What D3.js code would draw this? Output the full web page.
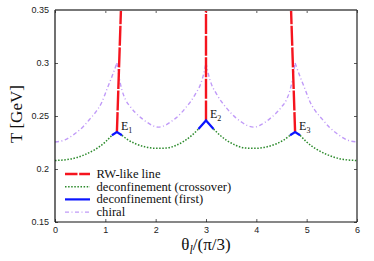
<!DOCTYPE html>
<html>
<head>
<meta charset="utf-8">
<script src="https://cdn.jsdelivr.net/npm/d3@7"></script>
<style>
  body { margin: 0; background: #fff; }
  svg { display: block; }
</style>
</head>
<body>
<svg id="chart" width="374" height="261"></svg>
<script>
// axis ticks
var xTicks = [0, 1, 2, 3, 4, 5, 6];
var yTicks = [0.15, 0.2, 0.25, 0.3, 0.35];

// end points E1, E2, E3
var endTheta = [1.23, 3.0, 4.77];
var endT = [0.2348, 0.2458, 0.2348];
var endNames = ['1', '2', '3'];

// RW-like lines (bottom -> top)
var rwTheta = [[1.23, 1.31], [3.0, 3.0], [4.77, 4.69]];
var rwT = [[0.2348, 0.35], [0.2458, 0.35], [0.2348, 0.35]];

// deconfinement first order arms
var firstTheta = [[1.13, 1.23, 1.33], [2.85, 3.0, 3.15], [4.67, 4.77, 4.87]];
var firstT = [[0.2318, 0.2348, 0.2318], [0.2377, 0.2458, 0.2377], [0.2318, 0.2348, 0.2318]];

// deconfinement crossover
var crossTheta = [
  [0, 0.3, 0.6, 0.8, 1.0, 1.13],
  [1.33, 1.45, 1.6, 1.8, 2.0, 2.2, 2.4, 2.58, 2.72, 2.85],
  [3.15, 3.28, 3.42, 3.6, 3.8, 4.0, 4.2, 4.4, 4.55, 4.67],
  [4.87, 5.0, 5.2, 5.4, 5.7, 6.0]
];
var crossT = [
  [0.208, 0.2093, 0.2137, 0.2185, 0.2255, 0.2318],
  [0.2318, 0.2275, 0.2238, 0.2208, 0.2195, 0.2197, 0.2222, 0.2268, 0.2318, 0.2377],
  [0.2377, 0.2318, 0.2268, 0.2222, 0.2197, 0.2195, 0.2208, 0.2238, 0.2275, 0.2318],
  [0.2318, 0.2255, 0.2185, 0.2137, 0.2093, 0.208]
];

// chiral
var chiralTheta = [
  [0, 0.2, 0.4, 0.55, 0.7, 0.83, 0.93, 1.03, 1.13, 1.23],
  [1.23, 1.28, 1.33, 1.4, 1.5, 1.6, 1.73, 1.83, 1.93, 2.05, 2.2, 2.3, 2.4, 2.5, 2.6, 2.7, 2.8, 2.9, 2.95, 3.0],
  [3.0, 3.05, 3.1, 3.2, 3.3, 3.4, 3.5, 3.6, 3.7, 3.8, 3.95, 4.07, 4.17, 4.27, 4.4, 4.5, 4.6, 4.67, 4.72, 4.77],
  [4.77, 4.87, 4.97, 5.07, 5.17, 5.3, 5.45, 5.6, 5.8, 6.0]
];
var chiralT = [
  [0.2255, 0.2275, 0.2335, 0.2395, 0.2475, 0.255, 0.263, 0.275, 0.287, 0.300],
  [0.300, 0.285, 0.2745, 0.2655, 0.2585, 0.253, 0.2475, 0.244, 0.2412, 0.2395, 0.2415, 0.2445, 0.248, 0.2525, 0.258, 0.264, 0.2715, 0.281, 0.289, 0.300],
  [0.300, 0.289, 0.281, 0.2715, 0.264, 0.258, 0.2525, 0.248, 0.2445, 0.2415, 0.2395, 0.2412, 0.244, 0.2475, 0.253, 0.2585, 0.2655, 0.2745, 0.285, 0.300],
  [0.300, 0.287, 0.275, 0.263, 0.255, 0.2475, 0.2395, 0.2335, 0.2275, 0.2255]
];

var legendNames = ['RW-like line', 'deconfinement (crossover)', 'deconfinement (first)', 'chiral'];

var
svg = d3.select('#chart'),
margin = {left: 55, right: 17, top: 10, bottom: 39},
width = 374 - margin.left - margin.right,
height = 261 - margin.top - margin.bottom;

var x = d3.scaleLinear().domain([0, 6]).range([0, width]);
var y = d3.scaleLinear().domain([0.15, 0.35]).range([height, 0]);

var g = svg.append('g').attr('transform', 'translate(' + margin.left + ',' + margin.top + ')');

svg.append('defs').append('clipPath').attr('id', 'clip')
  .append('rect').attr('width', width).attr('height', height);

var tickFont = '"Liberation Sans", Arial, sans-serif';
var serif = '"Liberation Serif", "Times New Roman", serif';

// axes with inner ticks
function styleAxis(sel) {
  sel.select('.domain').remove();
  sel.selectAll('.tick line').attr('stroke', '#333').attr('stroke-width', 0.8);
  sel.selectAll('.tick text').attr('font-family', tickFont).attr('font-size', 9).attr('fill', '#222');
}
g.append('g').attr('transform', 'translate(0,' + height + ')')
  .call(d3.axisBottom(x).tickValues(xTicks).tickSizeInner(-3).tickSizeOuter(0).tickPadding(5).tickFormat(d3.format('d')))
  .call(styleAxis);
g.append('g')
  .call(d3.axisTop(x).tickValues(xTicks).tickSizeInner(-3).tickSizeOuter(0).tickFormat(''))
  .call(styleAxis);
g.append('g')
  .call(d3.axisLeft(y).tickValues(yTicks).tickSizeInner(-3).tickSizeOuter(0).tickPadding(6).tickFormat(function (d) { return String(d); }))
  .call(styleAxis);
g.append('g').attr('transform', 'translate(' + width + ',0)')
  .call(d3.axisRight(y).tickValues(yTicks).tickSizeInner(-3).tickSizeOuter(0).tickFormat(''))
  .call(styleAxis);

function toPts(th, tt) {
  return th.map(function (d, i) { return [d, tt[i]]; });
}

var curve = d3.line().x(function (d) { return x(d[0]); }).y(function (d) { return y(d[1]); }).curve(d3.curveMonotoneX);
var straight = d3.line().x(function (d) { return x(d[0]); }).y(function (d) { return y(d[1]); });

var plot = g.append('g').attr('clip-path', 'url(#clip)');

// chiral
plot.selectAll('path.chiral').data(chiralTheta).enter().append('path')
  .attr('class', 'chiral')
  .attr('d', function (d, i) { return curve(toPts(d, chiralT[i])); })
  .attr('fill', 'none').attr('stroke', '#c09af8').attr('stroke-width', 1.4)
  .attr('stroke-dasharray', '4,2.5,1,2.5');

// crossover
plot.selectAll('path.cross').data(crossTheta).enter().append('path')
  .attr('class', 'cross')
  .attr('d', function (d, i) { return curve(toPts(d, crossT[i])); })
  .attr('fill', 'none').attr('stroke', '#2b8a2b').attr('stroke-width', 1.5)
  .attr('stroke-dasharray', '1.5,1.6');

// RW-like lines
plot.selectAll('path.rw').data(rwTheta).enter().append('path')
  .attr('class', 'rw')
  .attr('d', function (d, i) { return straight(toPts(d, rwT[i])); })
  .attr('fill', 'none').attr('stroke', '#f5141e').attr('stroke-width', 2.4)
  .attr('stroke-dasharray', '20,1.6');

// first order
plot.selectAll('path.first').data(firstTheta).enter().append('path')
  .attr('class', 'first')
  .attr('d', function (d, i) { return straight(toPts(d, firstT[i])); })
  .attr('fill', 'none').attr('stroke', '#0a14ff').attr('stroke-width', 2.2);

// E labels
var eLab = g.selectAll('text.elab').data(endTheta).enter().append('text')
  .attr('class', 'elab')
  .attr('x', function (d) { return x(d) + 4; })
  .attr('y', function (d, i) { return y(endT[i]) - 2; })
  .attr('font-family', serif).attr('font-size', 12).attr('fill', '#111');
eLab.append('tspan').text('E');
eLab.append('tspan').attr('dy', 3).attr('font-size', 8).text(function (d, i) { return endNames[i]; });

// frame
g.append('line').attr('x1', 0).attr('x2', width).attr('y1', 0).attr('y2', 0).attr('stroke', '#777').attr('stroke-width', 2);
g.append('line').attr('x1', width).attr('x2', width).attr('y1', 0).attr('y2', height).attr('stroke', '#333').attr('stroke-width', 1.3);
g.append('line').attr('x1', 0).attr('x2', width).attr('y1', height).attr('y2', height).attr('stroke', '#111').attr('stroke-width', 1.2);
g.append('line').attr('x1', 0).attr('x2', 0).attr('y1', 0).attr('y2', height).attr('stroke', '#111').attr('stroke-width', 1.2);

// legend
var legStyles = [
  {stroke: '#f5141e', w: 2.4, dash: '12.5,1.7'},
  {stroke: '#2b8a2b', w: 1.5, dash: '1.5,1.6'},
  {stroke: '#0a14ff', w: 2.2, dash: null},
  {stroke: '#c09af8', w: 1.4, dash: '4,2.5,1,2.5'}
];
var leg = g.append('g').attr('transform', 'translate(10,164)');
var rows = leg.selectAll('g').data(legendNames).enter().append('g')
  .attr('transform', function (d, i) { return 'translate(0,' + (i * 12.7) + ')'; });
rows.append('line').attr('x1', 0).attr('x2', 25).attr('y1', 0).attr('y2', 0)
  .attr('stroke', function (d, i) { return legStyles[i].stroke; })
  .attr('stroke-width', function (d, i) { return legStyles[i].w; })
  .attr('stroke-dasharray', function (d, i) { return legStyles[i].dash; });
rows.append('text').attr('x', 31.5).attr('y', 4)
  .attr('font-family', serif).attr('font-size', 12.6).attr('fill', '#111')
  .text(function (d) { return d; });

// axis titles
svg.append('text')
  .attr('transform', 'translate(22,' + (margin.top + 104) + ') rotate(-90)')
  .attr('text-anchor', 'middle')
  .attr('font-family', serif).attr('font-size', 17).attr('fill', '#111')
  .text('T [GeV]');

var xt = svg.append('text')
  .attr('x', margin.left + x(3)).attr('y', 250)
  .attr('text-anchor', 'middle')
  .attr('font-family', serif).attr('font-size', 17).attr('fill', '#111');
xt.append('tspan').text('θ');
xt.append('tspan').attr('dy', 4).attr('font-size', 12).attr('font-style', 'italic').text('l');
xt.append('tspan').attr('dy', -4).text('/(π/3)');
</script>
</body>
</html>
